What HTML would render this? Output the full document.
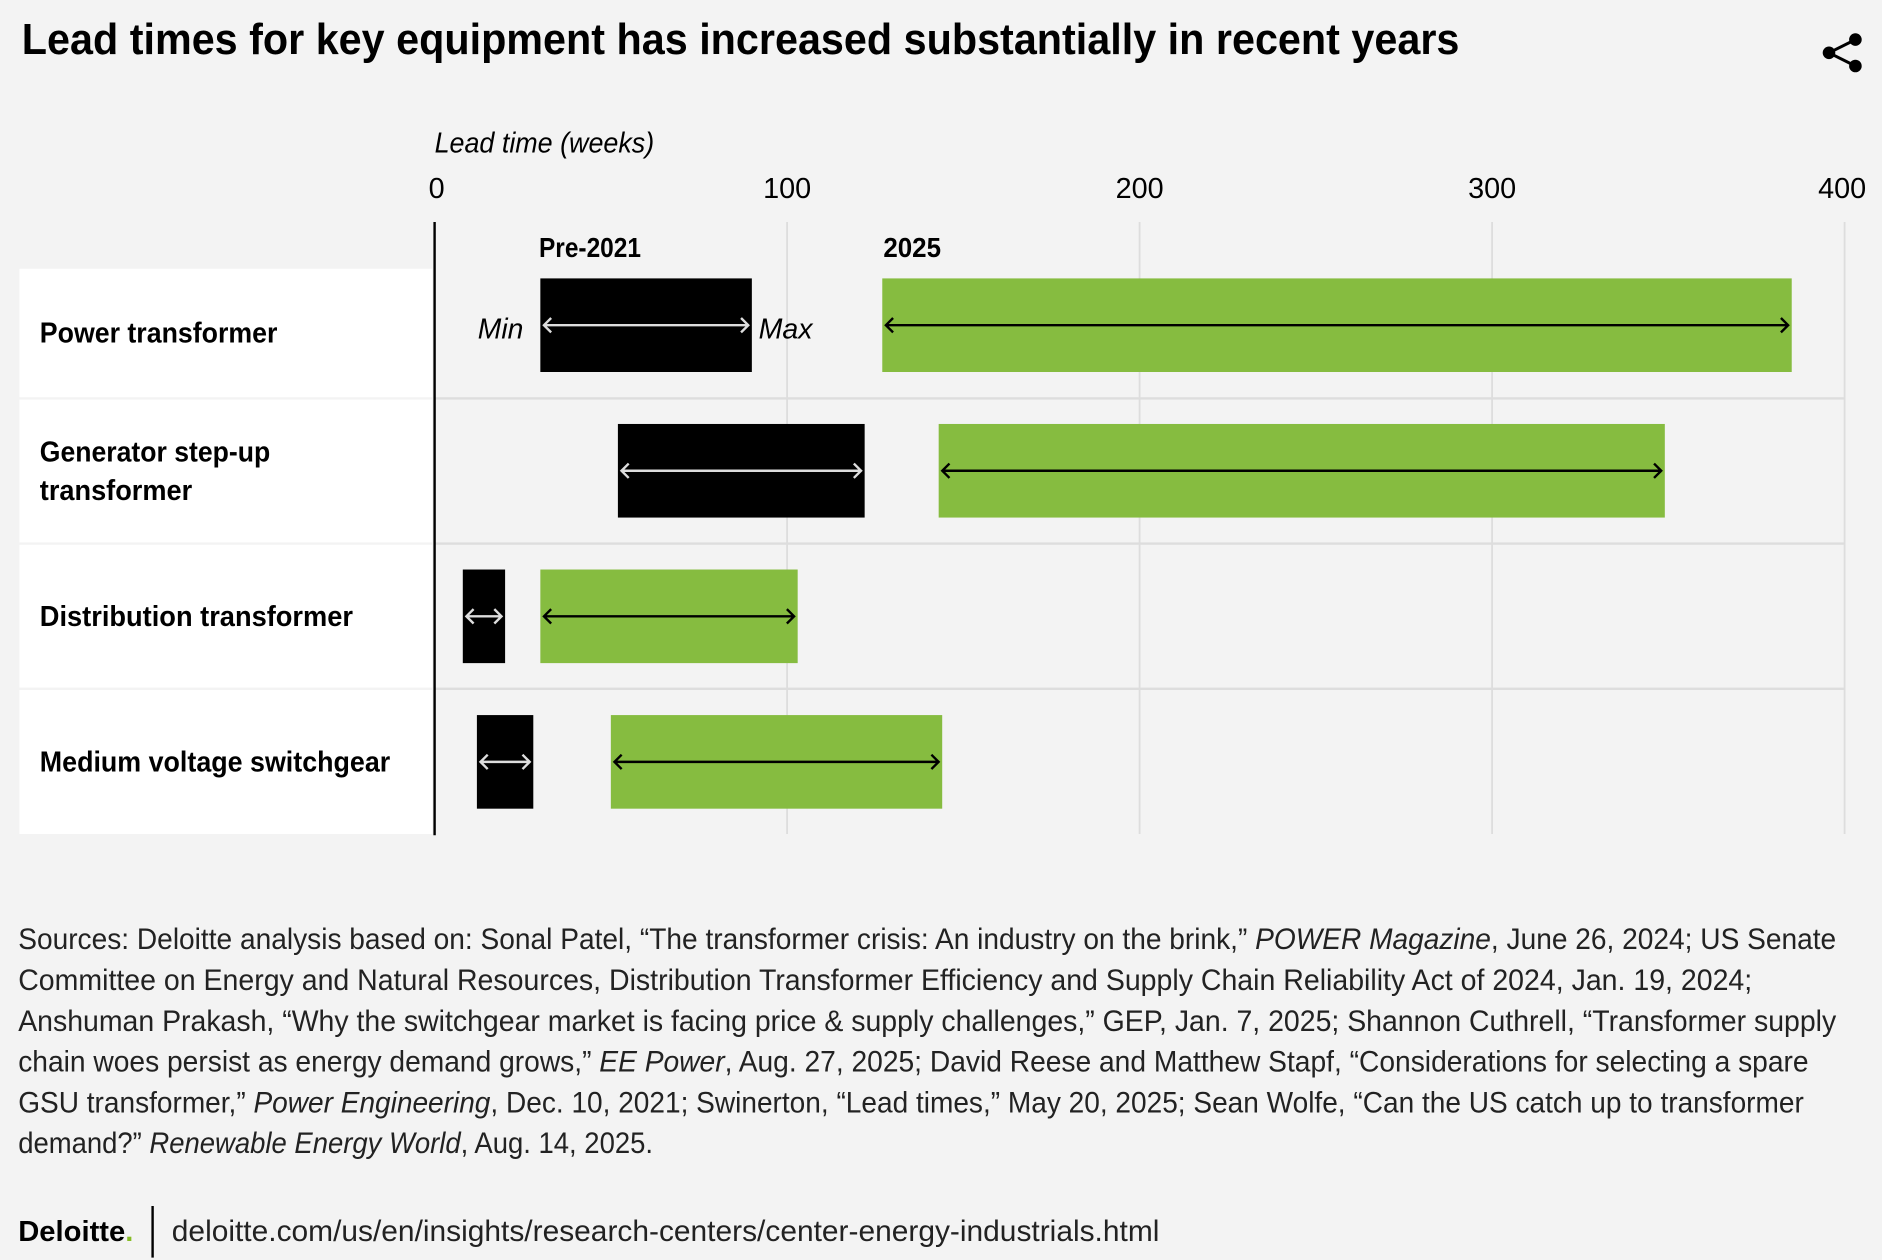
<!DOCTYPE html>
<html><head><meta charset="utf-8"><style>
html,body{margin:0;padding:0;background:#f3f3f3;}
svg{display:block;}
text{font-family:"Liberation Sans",sans-serif;}
</style></head><body>
<svg width="1882" height="1260" viewBox="0 0 1568 1050" xmlns="http://www.w3.org/2000/svg">
<rect x="0" y="0" width="1568" height="1050" fill="#f3f3f3"/>
<text x="18" y="45" font-size="36" font-weight="bold" textLength="1198" lengthAdjust="spacingAndGlyphs" fill="#000">Lead times for key equipment has increased substantially in recent years</text>
<g stroke="#000" stroke-width="2.5" fill="#000">
<line x1="1524" y1="44" x2="1546" y2="33"/><line x1="1524" y1="44" x2="1546" y2="55"/>
<circle cx="1524" cy="44" r="4"/><circle cx="1546" cy="33" r="4"/><circle cx="1546" cy="55" r="4"/>
</g>
<text x="362" y="127" font-size="24" font-style="italic" textLength="183" lengthAdjust="spacingAndGlyphs">Lead time (weeks)</text>
<g id="grid"></g>
<g id="labels"></g>
<g id="bars"></g>
<text x="449" y="214" font-size="23" font-weight="bold" textLength="85" lengthAdjust="spacingAndGlyphs">Pre-2021</text>
<text x="736" y="214" font-size="23" font-weight="bold" textLength="48" lengthAdjust="spacingAndGlyphs">2025</text>
<text x="436" y="282" font-size="24" font-style="italic" text-anchor="end" textLength="38" lengthAdjust="spacingAndGlyphs">Min</text>
<text x="632" y="282" font-size="24" font-style="italic" textLength="45" lengthAdjust="spacingAndGlyphs">Max</text>
<g font-size="25" fill="#222">
<text x="15" y="791" textLength="1515" lengthAdjust="spacingAndGlyphs">Sources: Deloitte analysis based on: Sonal Patel, “The transformer crisis: An industry on the brink,” <tspan font-style="italic">POWER Magazine</tspan>, June 26, 2024; US Senate</text>
<text x="15" y="825" textLength="1445" lengthAdjust="spacingAndGlyphs">Committee on Energy and Natural Resources, Distribution Transformer Efficiency and Supply Chain Reliability Act of 2024, Jan. 19, 2024;</text>
<text x="15" y="859" textLength="1515" lengthAdjust="spacingAndGlyphs">Anshuman Prakash, “Why the switchgear market is facing price &amp; supply challenges,” GEP, Jan. 7, 2025; Shannon Cuthrell, “Transformer supply</text>
<text x="15" y="893" textLength="1492" lengthAdjust="spacingAndGlyphs">chain woes persist as energy demand grows,” <tspan font-style="italic">EE Power</tspan>, Aug. 27, 2025; David Reese and Matthew Stapf, “Considerations for selecting a spare</text>
<text x="15" y="927" textLength="1488" lengthAdjust="spacingAndGlyphs">GSU transformer,” <tspan font-style="italic">Power Engineering</tspan>, Dec. 10, 2021; Swinerton, “Lead times,” May 20, 2025; Sean Wolfe, “Can the US catch up to transformer</text>
<text x="15" y="961" textLength="529" lengthAdjust="spacingAndGlyphs">demand?” <tspan font-style="italic">Renewable Energy World</tspan>, Aug. 14, 2025.</text>
</g>
<text x="15" y="1034" font-size="24" font-weight="bold" textLength="96" lengthAdjust="spacingAndGlyphs">Deloitte<tspan fill="#86bc25">.</tspan></text>
<line x1="127" y1="1005" x2="127" y2="1048" stroke="#000" stroke-width="2"/>
<text x="143" y="1034" font-size="25" fill="#222" textLength="823" lengthAdjust="spacingAndGlyphs">deloitte.com/us/en/insights/research-centers/center-energy-industrials.html</text>
</svg>
<script>
const categories = ["Power transformer", "Generator step-up|transformer", "Distribution transformer", "Medium voltage switchgear"];
const preMin = [30, 52, 8, 12];
const preMax = [90, 122, 20, 28];
const newMin = [127, 143, 30, 50];
const newMax = [385, 349, 103, 144];
const ticks = [0, 100, 200, 300, 400];
const labelWidths = [198, 0, 261, 292];

const NS = "http://www.w3.org/2000/svg";
const x = v => 362 + v * 1175 / 400;
const rowTops = [224, 333, 454, 575];
const rowBots = [331, 452, 573, 695];
const barTop = i => 232 + i * 121.3;
function mk(tag, attrs, parent) {
  const e = document.createElementNS(NS, tag);
  for (const k in attrs) e.setAttribute(k, attrs[k]);
  parent.appendChild(e);
  return e;
}
const grid = document.getElementById("grid");
const labels = document.getElementById("labels");
const bars = document.getElementById("bars");
const svg = document.querySelector("svg");

ticks.forEach(t => {
  if (t > 0) {
    const l = mk("line", {x1: x(t), x2: x(t), y1: 185, y2: 695, stroke: "#dddddd", "stroke-width": 1.5}, grid);
    
    
  }
  const tx = mk("text", {x: x(t), y: 165, "font-size": 24, "text-anchor": t === 0 ? "start" : (t === 400 ? "end" : "middle")}, grid);
  if (t === 0) tx.setAttribute("x", x(t) - 5);
  if (t === 400) tx.setAttribute("x", x(t) + 18);
  tx.textContent = t;
  
  
});

categories.forEach((c, i) => {
  const top = rowTops[i], bot = rowBots[i];
  const bg = mk("rect", {x: 16, y: top, width: 344, height: bot - top, fill: "#ffffff"}, labels);
  
  
  if (i < categories.length - 1) {
    const sep = mk("line", {x1: 362, x2: 1537, y1: bot + 1, y2: bot + 1, stroke: "#dddddd", "stroke-width": 2}, grid);
    
    
  }
  const by = barTop(i), bh = 78, cy = by + bh / 2;
  const lc = (top + bot) / 2;
  const parts = c.split("|");
  parts.forEach((p, j) => {
    const ty = parts.length === 1 ? lc + 8 : lc - 8 + j * 32;
    const t = mk("text", {x: 33, y: ty, "font-size": 24, "font-weight": "bold"}, labels);
    t.textContent = p;
    const w = parts.length === 1 ? labelWidths[i] : (j === 0 ? 192 : 127);
    t.setAttribute("textLength", w);
    t.setAttribute("lengthAdjust", "spacingAndGlyphs");
    
    
  });
  [[preMin[i], preMax[i], "#000000", "#dddddd", "bar-pre-2021"], [newMin[i], newMax[i], "#86bc40", "#000000", "bar-2025"]].forEach(([a, b, fill, stroke, name]) => {
    const r = mk("rect", {x: x(a), y: by, width: x(b) - x(a), height: bh, fill: fill}, bars);
    
    
    const x1 = x(a) + 3, x2 = x(b) - 3;
    const ar = mk("path", {d: `M${x1} ${cy}H${x2}M${x1 + 6} ${cy - 6}L${x1} ${cy}L${x1 + 6} ${cy + 6}M${x2 - 6} ${cy - 6}L${x2} ${cy}L${x2 - 6} ${cy + 6}`, stroke: stroke, "stroke-width": 2, fill: "none"}, bars);
    
    
  });
});
const axis = mk("line", {x1: 362, x2: 362, y1: 185, y2: 696, stroke: "#000", "stroke-width": 2}, svg);


</script>
</body></html>
